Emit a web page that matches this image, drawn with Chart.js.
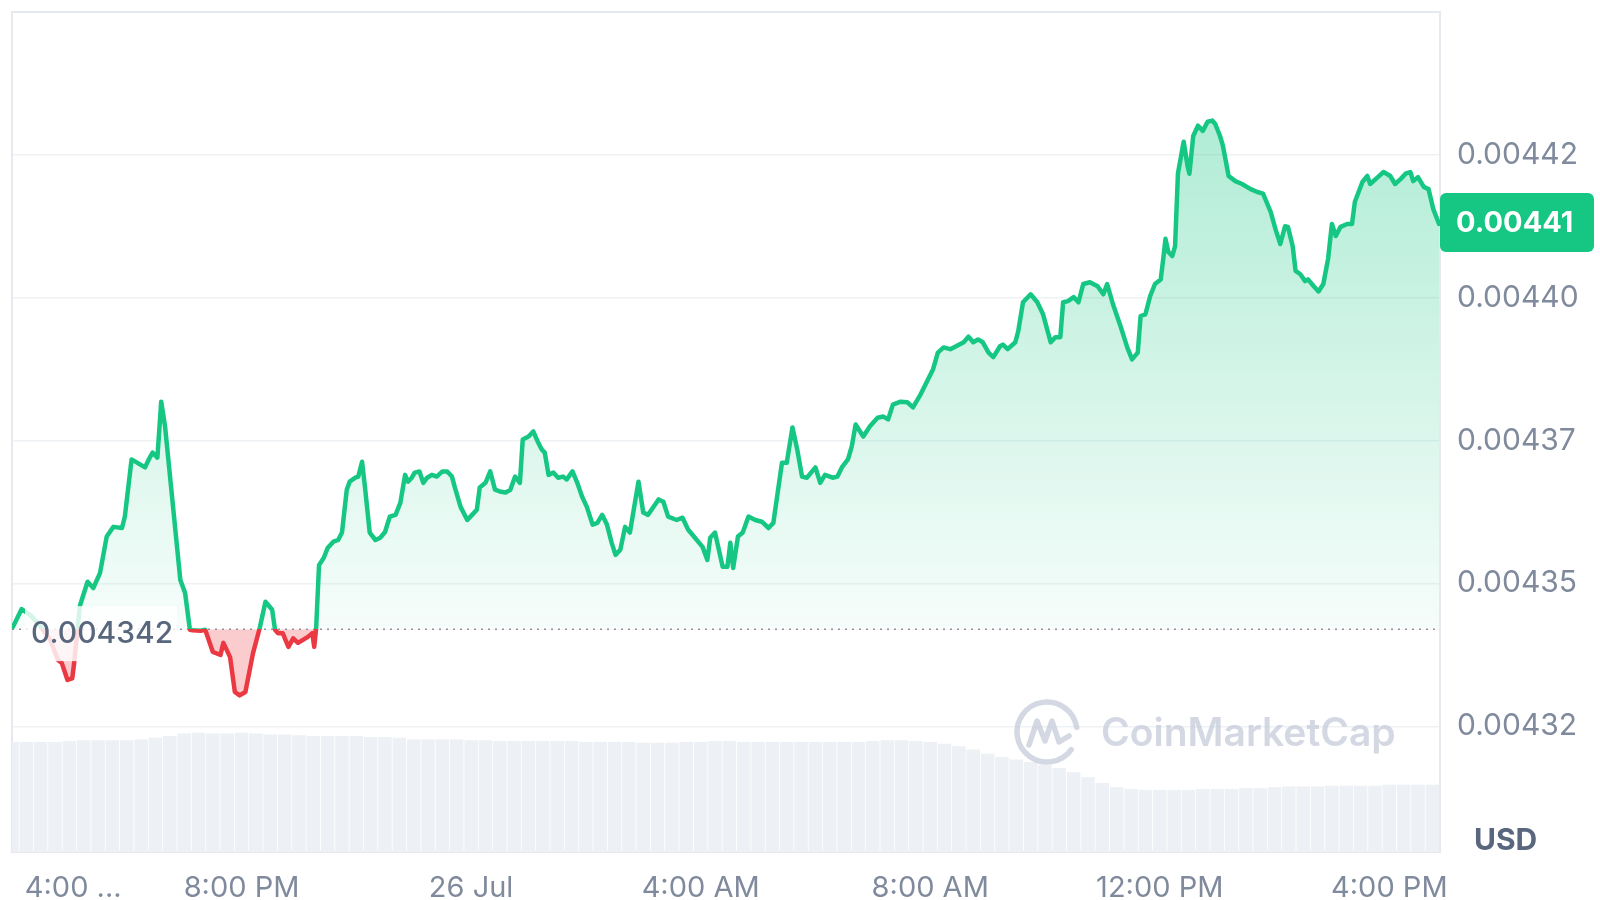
<!DOCTYPE html>
<html>
<head>
<meta charset="utf-8">
<title>Price chart</title>
<script src="https://cdn.jsdelivr.net/npm/chart.js@4.4.1/dist/chart.umd.min.js"></script>
<style>
  html, body { margin: 0; padding: 0; background: #fff; }
</style>
</head>
<body>
<canvas id="priceChart" width="1600" height="900"></canvas>
<script>
// minutes since 25 Jul 4:00 PM
const minutes = [
    1, 10, 19, 29, 40, 48, 52, 58, 63, 65,
    71, 79, 85, 92, 99, 106, 115, 118, 125, 139,
    143, 147, 152, 156, 160, 176, 181, 186, 189, 197,
    202, 210, 218, 221, 228, 233, 238, 244, 252, 259,
    265, 272, 275, 278, 283, 289, 294, 299, 309, 314,
    316, 318, 321, 326, 330, 336, 341, 345, 350, 353,
    359, 362, 366, 369, 374, 380, 385, 390, 395, 401,
    406, 411, 414, 418, 421, 426, 430, 434, 439, 444,
    450, 455, 460, 463, 469, 476, 481, 486, 489, 495,
    500, 505, 510, 516, 521, 526, 531, 534, 540, 545,
    550, 554, 557, 561, 566, 571, 576, 580, 586, 591,
    596, 601, 607, 612, 617, 622, 627, 631, 636, 641,
    646, 655, 660, 665, 676, 681, 686, 695, 701, 707,
    714, 722, 727, 730, 735, 743, 748, 751, 754, 759,
    764, 770, 777, 784, 791, 796, 805, 810, 816, 821,
    826, 831, 840, 845, 850, 858, 863, 868, 874, 878,
    882, 890, 897, 905, 911, 916, 921, 929, 936, 942,
    950, 963, 968, 974, 981, 989, 995, 1000, 1005, 1010,
    1015, 1021, 1026, 1033, 1036, 1041, 1049, 1052, 1057, 1065,
    1072, 1078, 1086, 1091, 1096, 1099, 1104, 1110, 1115, 1120,
    1127, 1135, 1141, 1145, 1151, 1159, 1166, 1171, 1177, 1180,
    1185, 1190, 1195, 1201, 1204, 1206, 1209, 1213, 1216, 1219,
    1225, 1229, 1231, 1235, 1240, 1245, 1250, 1255, 1258, 1263,
    1266, 1272, 1279, 1286, 1295, 1302, 1308, 1316, 1321, 1326,
    1331, 1334, 1339, 1342, 1347, 1352, 1355, 1361, 1366, 1371,
    1376, 1380, 1384, 1389, 1396, 1401, 1404, 1412, 1417, 1420,
    1428, 1434, 1441, 1446, 1452, 1457, 1462, 1465, 1470, 1476,
    1481, 1486, 1492
];

const prices = [
    0.0043424, 0.0043455, 0.0043445, 0.0043427, 0.0043401, 0.0043366, 0.0043361, 0.0043331, 0.0043334, 0.0043361,
    0.0043461, 0.0043503, 0.0043492, 0.0043518, 0.0043582, 0.0043599, 0.0043597, 0.0043617, 0.0043717, 0.0043703,
    0.0043717, 0.0043729, 0.0043720, 0.0043818, 0.0043775, 0.0043506, 0.0043483, 0.0043419, 0.0043418, 0.0043417,
    0.0043419, 0.0043380, 0.0043375, 0.0043396, 0.0043371, 0.0043310, 0.0043304, 0.0043310, 0.0043378, 0.0043422,
    0.0043468, 0.0043454, 0.0043419, 0.0043413, 0.0043413, 0.0043389, 0.0043404, 0.0043396, 0.0043406, 0.0043413,
    0.0043389, 0.0043422, 0.0043532, 0.0043545, 0.0043562, 0.0043573, 0.0043576, 0.0043589, 0.0043664, 0.0043678,
    0.0043685, 0.0043687, 0.0043713, 0.0043669, 0.0043589, 0.0043576, 0.0043580, 0.0043590, 0.0043617, 0.0043620,
    0.0043641, 0.0043690, 0.0043678, 0.0043685, 0.0043694, 0.0043696, 0.0043676, 0.0043685, 0.0043690, 0.0043687,
    0.0043696, 0.0043696, 0.0043687, 0.0043668, 0.0043634, 0.0043611, 0.0043620, 0.0043629, 0.0043668, 0.0043676,
    0.0043696, 0.0043664, 0.0043661, 0.0043659, 0.0043664, 0.0043687, 0.0043676, 0.0043752, 0.0043757, 0.0043766,
    0.0043747, 0.0043734, 0.0043729, 0.0043690, 0.0043694, 0.0043685, 0.0043687, 0.0043682, 0.0043696, 0.0043676,
    0.0043652, 0.0043634, 0.0043603, 0.0043606, 0.0043620, 0.0043603, 0.0043571, 0.0043550, 0.0043559, 0.0043599,
    0.0043589, 0.0043678, 0.0043624, 0.0043620, 0.0043647, 0.0043643, 0.0043617, 0.0043611, 0.0043615, 0.0043594,
    0.0043580, 0.0043564, 0.0043541, 0.0043580, 0.0043589, 0.0043529, 0.0043529, 0.0043571, 0.0043527, 0.0043582,
    0.0043589, 0.0043617, 0.0043611, 0.0043608, 0.0043597, 0.0043606, 0.0043711, 0.0043711, 0.0043773, 0.0043734,
    0.0043687, 0.0043685, 0.0043703, 0.0043676, 0.0043690, 0.0043685, 0.0043687, 0.0043704, 0.0043717, 0.0043740,
    0.0043778, 0.0043757, 0.0043775, 0.0043790, 0.0043792, 0.0043787, 0.0043813, 0.0043818, 0.0043817, 0.0043808,
    0.0043831, 0.0043875, 0.0043904, 0.0043913, 0.0043910, 0.0043917, 0.0043922, 0.0043932, 0.0043922, 0.0043927,
    0.0043922, 0.0043904, 0.0043896, 0.0043915, 0.0043918, 0.0043910, 0.0043922, 0.0043941, 0.0043992, 0.0044006,
    0.0043992, 0.0043971, 0.0043922, 0.0043931, 0.0043931, 0.0043992, 0.0043994, 0.0044001, 0.0043992, 0.0044024,
    0.0044027, 0.0044020, 0.0044006, 0.0044024, 0.0043989, 0.0043950, 0.0043913, 0.0043892, 0.0043904, 0.0043968,
    0.0043971, 0.0044003, 0.0044024, 0.0044032, 0.0044073, 0.0044103, 0.0044080, 0.0044073, 0.0044090, 0.0044217,
    0.0044273, 0.0044231, 0.0044217, 0.0044283, 0.0044301, 0.0044292, 0.0044308, 0.0044310, 0.0044304, 0.0044283,
    0.0044266, 0.0044213, 0.0044204, 0.0044199, 0.0044190, 0.0044185, 0.0044182, 0.0044150, 0.0044120, 0.0044094,
    0.0044125, 0.0044124, 0.0044090, 0.0044047, 0.0044041, 0.0044029, 0.0044032, 0.0044020, 0.0044011, 0.0044024,
    0.0044068, 0.0044129, 0.0044108, 0.0044124, 0.0044129, 0.0044129, 0.0044168, 0.0044203, 0.0044213, 0.0044199,
    0.0044211, 0.0044220, 0.0044213, 0.0044199, 0.0044208, 0.0044217, 0.0044220, 0.0044204, 0.0044211, 0.0044194,
    0.0044190, 0.0044155, 0.0044129
];

// 24h rolling volume, millions USD, every 15 minutes
const volumeMinutes = [
    0, 15, 30, 45, 60, 75, 90, 105, 120, 135,
    150, 165, 180, 195, 210, 225, 240, 255, 270, 285,
    300, 315, 330, 345, 360, 375, 390, 405, 420, 435,
    450, 465, 480, 495, 510, 525, 540, 555, 570, 585,
    600, 615, 630, 645, 660, 675, 690, 705, 720, 735,
    750, 765, 780, 795, 810, 825, 840, 855, 870, 885,
    900, 915, 930, 945, 960, 975, 990, 1005, 1020, 1035,
    1050, 1065, 1080, 1095, 1110, 1125, 1140, 1155, 1170, 1185,
    1200, 1215, 1230, 1245, 1260, 1275, 1290, 1305, 1320, 1335,
    1350, 1365, 1380, 1395, 1410, 1425, 1440, 1455, 1470, 1485
];
const volumes = [
    1.31, 1.31, 1.31, 1.31, 1.32, 1.33, 1.33, 1.33, 1.33, 1.34,
    1.36, 1.38, 1.41, 1.42, 1.41, 1.41, 1.42, 1.41, 1.40, 1.40,
    1.39, 1.38, 1.38, 1.38, 1.38, 1.37, 1.37, 1.36, 1.34, 1.34,
    1.34, 1.34, 1.33, 1.33, 1.32, 1.32, 1.32, 1.32, 1.32, 1.32,
    1.31, 1.31, 1.31, 1.31, 1.30, 1.30, 1.30, 1.31, 1.31, 1.32,
    1.32, 1.31, 1.31, 1.31, 1.31, 1.31, 1.31, 1.31, 1.31, 1.31,
    1.32, 1.33, 1.33, 1.32, 1.31, 1.29, 1.26, 1.22, 1.17, 1.13,
    1.10, 1.07, 1.04, 1.00, 0.95, 0.89, 0.82, 0.77, 0.75, 0.74,
    0.74, 0.74, 0.74, 0.75, 0.75, 0.75, 0.76, 0.76, 0.77, 0.78,
    0.78, 0.78, 0.79, 0.79, 0.79, 0.79, 0.80, 0.80, 0.80, 0.80
];

const openPrice = 0.004342;
const xTickMinutes = [64, 240, 480, 720, 960, 1200, 1440];
const xTickLabels = ['4:00 ...', '8:00 PM', '26 Jul', '4:00 AM', '8:00 AM', '12:00 PM', '4:00 PM'];
const yTickValues = [0.004325, 0.00435, 0.004375, 0.0044, 0.004425];
const yTickLabels = ['0.00432', '0.00435', '0.00437', '0.00440', '0.00442'];

const green = '#16c784';
const red = '#ea3943';
const fontFamily = 'Inter, "Noto Sans", sans-serif';

function lineGradient(chart) {
    const { ctx, chartArea, scales } = chart;
    if (!chartArea || !scales.y) return green;
    const y0 = scales.y.getPixelForValue(openPrice);
    const f = Math.min(1, Math.max(0, (y0 - chartArea.top) / (chartArea.bottom - chartArea.top)));
    const g = ctx.createLinearGradient(0, chartArea.top, 0, chartArea.bottom);
    g.addColorStop(0, green);
    g.addColorStop(f, green);
    g.addColorStop(f, red);
    g.addColorStop(1, red);
    return g;
}

function fillGradient(chart) {
    const { ctx, chartArea, scales } = chart;
    if (!chartArea || !scales.y) return 'rgba(22,199,132,0.15)';
    const y0 = scales.y.getPixelForValue(openPrice);
    const g = ctx.createLinearGradient(0, chartArea.top, 0, y0);
    g.addColorStop(0, 'rgba(22,199,132,0.40)');
    g.addColorStop(1, 'rgba(22,199,132,0.04)');
    return g;
}

function noEdgePadding(axis) {
    axis.paddingTop = 0;
    axis.paddingBottom = 0;
    axis.paddingLeft = 0;
    axis.paddingRight = 0;
}

const decorations = {
    id: 'decorations',
    beforeDatasetsDraw(chart) {
        const { ctx, chartArea, scales } = chart;
        const y0 = scales.y.getPixelForValue(openPrice);
        ctx.save();
        ctx.strokeStyle = '#e6e9ee';
        ctx.lineWidth = 2;
        ctx.strokeRect(chartArea.left, chartArea.top, chartArea.right - chartArea.left, chartArea.bottom - chartArea.top);
        ctx.setLineDash([2, 5]);
        ctx.strokeStyle = '#8f99a9';
        ctx.lineWidth = 1.5;
        ctx.beginPath();
        ctx.moveTo(chartArea.left, y0);
        ctx.lineTo(chartArea.right, y0);
        ctx.stroke();
        ctx.restore();
    },
    afterDatasetsDraw(chart) {
        const { ctx, chartArea, scales } = chart;
        const y0 = scales.y.getPixelForValue(openPrice);
        ctx.save();

        // watermark
        const cx = 1047, cy = 732, r = 30;
        ctx.strokeStyle = 'rgba(196,203,216,0.75)';
        ctx.lineWidth = 5.5;
        ctx.lineCap = 'round';
        ctx.lineJoin = 'round';
        ctx.beginPath();
        ctx.arc(cx, cy, r, 0.2 * Math.PI, 1.95 * Math.PI);
        ctx.stroke();
        ctx.beginPath();
        ctx.moveTo(cx - 18, cy + 13);
        ctx.lineTo(cx - 10, cy - 11);
        ctx.lineTo(cx - 2, cy + 9);
        ctx.lineTo(cx + 5, cy - 11);
        ctx.lineTo(cx + 12, cy + 10);
        ctx.lineTo(cx + 22, cy + 4);
        ctx.stroke();
        ctx.fillStyle = 'rgba(196,203,216,0.75)';
        ctx.font = '600 39px ' + fontFamily;
        ctx.textBaseline = 'middle';
        ctx.fillText('CoinMarketCap', 1101, cy + 2);

        // open price label
        ctx.fillStyle = 'rgba(255,255,255,0.82)';
        ctx.fillRect(chartArea.left + 13, y0 - 23, 152, 55);
        ctx.fillStyle = '#58667e';
        ctx.font = '500 30px ' + fontFamily;
        ctx.textBaseline = 'middle';
        ctx.fillText(String(openPrice), chartArea.left + 19, y0 + 5);
        ctx.restore();
    },
    afterDraw(chart) {
        const { ctx, chartArea, scales } = chart;
        const last = prices[prices.length - 1];
        const yl = scales.y.getPixelForValue(last);
        ctx.save();
        ctx.fillStyle = green;
        ctx.beginPath();
        ctx.roundRect(chartArea.right, yl - 31, 154, 59, 6);
        ctx.fill();
        ctx.fillStyle = '#ffffff';
        ctx.font = '700 29px ' + fontFamily;
        ctx.textBaseline = 'middle';
        ctx.fillText(last.toFixed(5), chartArea.right + 16, yl - 1);

        ctx.fillStyle = '#58667e';
        ctx.font = '700 30px ' + fontFamily;
        ctx.fillText('USD', chartArea.right + 34, 841);
        ctx.restore();
    }
};

const ctx = document.getElementById('priceChart').getContext('2d');
const priceChart = new Chart(ctx, {
    type: 'line',
    data: {
        datasets: [{
            type: 'line',
            label: 'Price',
            data: minutes.map((m, i) => ({ x: m, y: prices[i] })),
            yAxisID: 'y',
            borderWidth: 4.5,
            borderJoinStyle: 'round',
            borderCapStyle: 'round',
            pointRadius: 0,
            tension: 0,
            borderColor: c => lineGradient(c.chart),
            backgroundColor: c => fillGradient(c.chart),
            fill: { value: openPrice, below: 'rgba(234,57,67,0.26)' }
        }, {
            type: 'bar',
            label: 'Volume',
            data: volumeMinutes.map((m, i) => ({ x: m, y: volumes[i] })),
            yAxisID: 'vol',
            backgroundColor: '#edf0f4',
            borderWidth: 0,
            barPercentage: 0.94,
            categoryPercentage: 1
        }]
    },
    options: {
        responsive: false,
        animation: false,
        events: [],
        layout: { padding: { left: 12, top: 12, right: 0, bottom: 0 } },
        plugins: {
            legend: { display: false },
            tooltip: { enabled: false }
        },
        scales: {
            x: {
                type: 'linear',
                min: 0,
                max: 1493,
                offset: false,
                bounds: 'data',
                grid: { display: false, drawTicks: false, offset: false },
                border: { display: false },
                afterBuildTicks: axis => { axis.ticks = xTickMinutes.map(v => ({ value: v })); },
                afterFit: axis => { axis.height = 48; noEdgePadding(axis); },
                ticks: {
                    autoSkip: false,
                    maxRotation: 0,
                    padding: 19,
                    color: '#808a9d',
                    font: { family: fontFamily, size: 29 },
                    callback: (value, index) => xTickLabels[index]
                }
            },
            y: {
                position: 'right',
                min: 0.004303,
                max: 0.00445,
                grid: { color: '#eff2f5', lineWidth: 1.5, drawTicks: false },
                border: { display: false },
                afterBuildTicks: axis => { axis.ticks = yTickValues.map(v => ({ value: v })); },
                afterFit: axis => { axis.width = 160; noEdgePadding(axis); },
                ticks: {
                    padding: 17,
                    color: '#808a9d',
                    font: { family: fontFamily, size: 30 },
                    callback: (value, index) => yTickLabels[index]
                }
            },
            vol: {
                type: 'linear',
                display: false,
                min: 0,
                max: 10
            }
        }
    },
    plugins: [decorations]
});
</script>
</body>
</html>
